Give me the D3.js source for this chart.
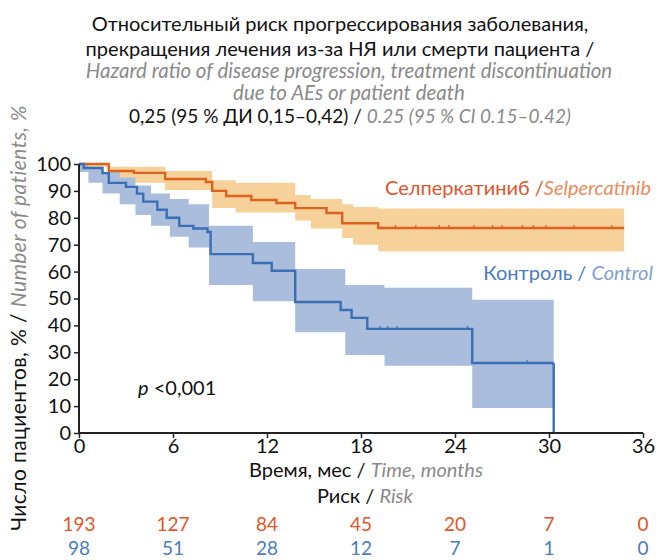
<!DOCTYPE html>
<html>
<head>
<meta charset="utf-8">
<script src="https://cdn.jsdelivr.net/npm/d3@7"></script>
<style>
  body { margin: 0; background: #fff; }
  svg text { font-family: Lato, "Open Sans", sans-serif; }
</style>
</head>
<body>
<div id="chart"></div>
<script>
// данные кривых Каплана-Мейера (месяц, %)
const selpTime  = [0, 1.9, 3.5, 5.5, 8.1, 8.5, 9.4, 11.0, 12.6, 13.8, 15.8, 16.8, 19.1, 34.8];
const selpValue = [100, 97.4, 96.7, 94.4, 93.3, 90, 88.1, 86.6, 85.5, 83.6, 81.8, 78, 76.2, 76.2];

const selpBandTime  = [0, 1.9, 5.5, 8.5, 10.0, 13.8, 14.8, 16.8, 17.5, 19.1, 34.8];
const selpBandUpper = [100, 99, 97.4, 94, 93, 88.5, 87, 85, 84, 83.5, 83.5];
const selpBandLower = [99, 93, 90.3, 83.6, 82, 79, 76, 72.5, 70, 67.5, 67.5];

const ctrlTime  = [0, 0.3, 1.5, 1.9, 3.0, 3.7, 4.1, 5.0, 5.6, 6.4, 7.3, 8.2, 8.4, 11.1, 12.3, 13.8, 16.7, 17.4, 18.4, 25.1, 30.3];
const ctrlValue = [100, 98.5, 96.6, 93, 91.5, 89, 86, 83, 80, 77, 76, 74.7, 66.5, 63.2, 60.3, 48.7, 45.7, 42.8, 38.7, 26, 26];

const ctrlBandTime  = [0, 0.6, 1.5, 2.6, 3.6, 4.6, 5.8, 7.0, 8.3, 11.1, 13.8, 17.0, 19.5, 25.1, 30.3];
const ctrlBandUpper = [100, 99, 97, 95, 92, 89, 87, 85, 77, 71, 61, 55, 54, 49.5, 49.5];
const ctrlBandLower = [97, 93, 89, 85, 81, 77, 73, 69, 55, 49, 37.5, 29, 25, 9.3, 9.3];

// цензурированные наблюдения
const selpCensor = [20.2, 21.5, 23.0, 23.6, 25.2, 26.4, 27.0, 28.3, 29.0, 29.8, 31.6, 34.0];
const ctrlCensor = [19.2, 19.7, 20.3, 24.8, 28.6];

const xTicks = [0, 6, 12, 18, 24, 30, 36];
const yTicks = [0, 10, 20, 30, 40, 50, 60, 70, 80, 90, 100];
const riskSelp = [193, 127, 84, 45, 20, 7, 0];
const riskCtrl = [98, 51, 28, 12, 7, 1, 0];

const titleRu = ["Относительный риск прогрессирования заболевания,",
                 "прекращения лечения из-за НЯ или смерти пациента /"];
const titleEn = ["Hazard ratio of disease progression, treatment discontinuation",
                 "due to AEs or patient death"];

const config = { width: 564, height: 269, left: 79, top: 164 };

const orange = "#dc621f", orangeBand = "#f6d19a";
const blue = "#3a6fb5", blueBand = "#aabddd";
const grey = "#8a8a8a";
const fs = "20px";

const svg = d3.select("#chart").append("svg")
    .attr("width", 656)
    .attr("height", 560);

const g = svg.append("g")
    .attr("transform", `translate(${config.left},${config.top})`);

const xScale = d3.scaleLinear().domain([0, 36]).range([0, config.width]);
const yScale = d3.scaleLinear().domain([0, 100]).range([config.height, 0]);

// полосы доверительного интервала
function band(times, upper, lower, color) {
    const pts = times.map((t, i) => ({ t, u: upper[i], l: lower[i] }));
    const area = d3.area()
        .curve(d3.curveStepAfter)
        .x(d => xScale(d.t))
        .y0(d => yScale(d.l))
        .y1(d => yScale(d.u));
    g.append("path").attr("d", area(pts)).attr("fill", color);
}
band(selpBandTime, selpBandUpper, selpBandLower, orangeBand);
band(ctrlBandTime, ctrlBandUpper, ctrlBandLower, blueBand);

function curve(times, values, color) {
    const pts = times.map((t, i) => ({ t, v: values[i] }));
    const line = d3.line()
        .curve(d3.curveStepAfter)
        .x(d => xScale(d.t))
        .y(d => yScale(d.v));
    g.append("path").attr("d", line(pts))
        .attr("fill", "none").attr("stroke", color).attr("stroke-width", 2.4);
}
curve(selpTime, selpValue, orange);
curve(ctrlTime, ctrlValue, blue);

// вертикальный спуск контроля до нуля
g.append("line")
    .attr("x1", xScale(30.3)).attr("x2", xScale(30.3))
    .attr("y1", yScale(26)).attr("y2", yScale(0))
    .attr("stroke", blue).attr("stroke-width", 2.4);

function stepValue(times, values, t) {
    let v = values[0];
    times.forEach((tt, i) => { if (tt <= t) v = values[i]; });
    return v;
}
function censor(list, times, values, color) {
    g.selectAll(null).data(list).enter().append("line")
        .attr("x1", d => xScale(d)).attr("x2", d => xScale(d))
        .attr("y1", d => yScale(stepValue(times, values, d)) - 3)
        .attr("y2", d => yScale(stepValue(times, values, d)))
        .attr("stroke", color).attr("stroke-width", 1.2);
}
censor(selpCensor, selpTime, selpValue, orange);
censor(ctrlCensor, ctrlTime, ctrlValue, blue);

// оси
const xAxis = d3.axisBottom(xScale).tickValues(xTicks).tickSize(5).tickPadding(1);
const yAxis = d3.axisLeft(yScale).tickValues(yTicks).tickSize(5).tickPadding(3);

const gx = g.append("g")
    .attr("transform", `translate(0,${config.height})`)
    .call(xAxis);
const gy = g.append("g").call(yAxis);

[gx, gy].forEach(a => {
    a.select(".domain").attr("stroke", "#222").attr("stroke-width", 2);
    a.selectAll(".tick line").attr("stroke", "#222").attr("stroke-width", 1.5);
    a.selectAll(".tick text").attr("fill", "#111").style("font-size", fs);
});
gx.select(".domain").attr("d", `M0,0H${config.width}`);
gy.select(".domain").attr("d", `M0,${config.height}V0`);

// заголовок
const title = svg.append("g").attr("text-anchor", "middle");
title.append("text").attr("x", 340).attr("y", 31).style("font-size", fs).attr("fill", "#111").text(titleRu[0]);
title.append("text").attr("x", 340).attr("y", 56).style("font-size", fs).attr("fill", "#111").text(titleRu[1]);
title.append("text").attr("x", 349).attr("y", 78).style("font-size", "20.5px").style("font-style", "italic").attr("fill", grey).text(titleEn[0]);
title.append("text").attr("x", 349).attr("y", 100).style("font-size", "20.5px").style("font-style", "italic").attr("fill", grey).text(titleEn[1]);
const hr = title.append("text").attr("x", 350).attr("y", 123).style("font-size", "19px").attr("fill", "#111");
hr.append("tspan").text("0,25 (95 % ДИ 0,15–0,42) / ");
hr.append("tspan").style("font-style", "italic").attr("fill", grey).text("0.25 (95 % CI 0.15–0.42)");

// подписи групп
const lblS = svg.append("text").attr("x", 651).attr("y", 195).attr("text-anchor", "end").style("font-size", fs);
lblS.append("tspan").attr("fill", "#e2542a").text("Селперкатиниб /");
lblS.append("tspan").attr("fill", "#ee8a5c").style("font-style", "italic").text("Selpercatinib");

const lblC = svg.append("text").attr("x", 653).attr("y", 280).attr("text-anchor", "end").style("font-size", fs);
lblC.append("tspan").attr("fill", "#4a7cc0").text("Контроль / ");
lblC.append("tspan").attr("fill", "#7d9fd2").style("font-style", "italic").text("Control");

const pv = svg.append("text").attr("x", 138).attr("y", 395).style("font-size", fs).attr("fill", "#111");
pv.append("tspan").style("font-style", "italic").text("p");
pv.append("tspan").text(" <0,001");

// подписи осей
const xl = svg.append("text").attr("x", 366).attr("y", 477).attr("text-anchor", "middle").style("font-size", fs).attr("fill", "#111");
xl.append("tspan").text("Время, мес / ");
xl.append("tspan").style("font-style", "italic").attr("fill", grey).text("Time, months");

const yl = svg.append("text")
    .attr("transform", "translate(26,318) rotate(-90)")
    .attr("text-anchor", "middle").style("font-size", "21px").style("letter-spacing", "0.4px").attr("fill", "#111");
yl.append("tspan").text("Число пациентов, % / ");
yl.append("tspan").style("font-style", "italic").attr("fill", grey).text("Number of patients, %");

const rl = svg.append("text").attr("x", 365).attr("y", 503).attr("text-anchor", "middle").style("font-size", fs).attr("fill", "#111");
rl.append("tspan").text("Риск / ");
rl.append("tspan").style("font-style", "italic").attr("fill", grey).text("Risk");

// таблица числа пациентов под риском
svg.append("g").selectAll("text").data(riskSelp).enter().append("text")
    .attr("x", (d, i) => config.left + xScale(xTicks[i]))
    .attr("y", 531).attr("text-anchor", "middle")
    .style("font-size", "19px").attr("fill", "#e2542a").text(d => d);
svg.append("g").selectAll("text").data(riskCtrl).enter().append("text")
    .attr("x", (d, i) => config.left + xScale(xTicks[i]))
    .attr("y", 555).attr("text-anchor", "middle")
    .style("font-size", "19px").attr("fill", "#4a7cc0").text(d => d);
</script>
</body>
</html>
